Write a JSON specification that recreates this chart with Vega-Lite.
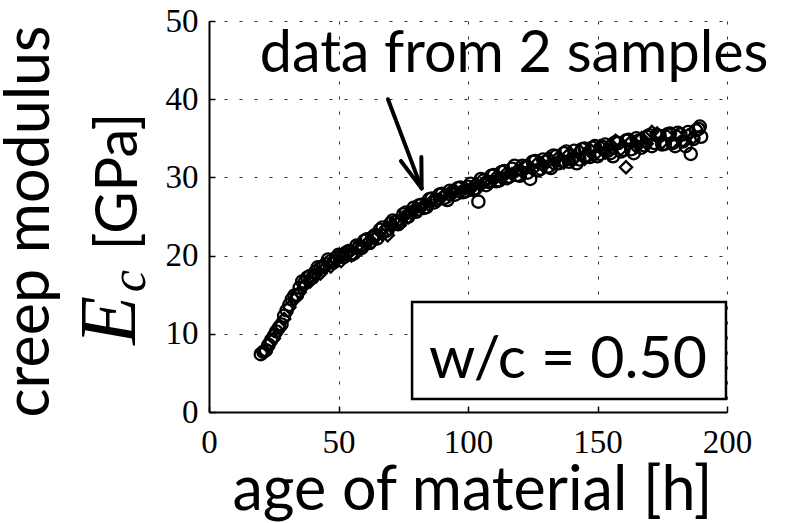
{
  "$schema": "https://vega.github.io/schema/vega-lite/v6.json",
  "autosize": {"type": "none"},
  "padding": {"left": 209, "top": 21, "right": 67, "bottom": 111},
  "width": 518,
  "height": 391,
  "background": "white",
  "config": {
    "view": {"stroke": null},
    "axis": {
      "domainColor": "black", "domainWidth": 2,
      "tickColor": "black", "tickWidth": 1.5, "tickSize": -6,
      "gridColor": "#333333", "gridDash": [3, 12], "gridWidth": 1, "gridOpacity": 1,
      "labelFont": "Liberation Serif", "labelFontSize": 33, "labelColor": "black",
      "titleFont": "Lato", "titleFontSize": 61, "titleFontWeight": "normal", "titleColor": "black"
    }
  },
  "datasets": {
    "creep": [
      {"s":"A","t":20,"E":7.4},{"s":"A","t":22,"E":7.9},{"s":"A","t":24,"E":9.2},{"s":"A","t":26,"E":10.3},{"s":"A","t":28,"E":11.2},{"s":"A","t":30,"E":13.0},{"s":"A","t":32,"E":14.4},{"s":"A","t":34,"E":15.0},{"s":"A","t":36,"E":16.7},{"s":"A","t":38,"E":17.2},{"s":"A","t":40,"E":17.2},{"s":"A","t":42,"E":18.5},{"s":"A","t":44,"E":18.6},{"s":"A","t":46,"E":19.5},{"s":"A","t":48,"E":19.1},{"s":"A","t":50,"E":20.1},{"s":"A","t":52,"E":19.8},{"s":"A","t":54,"E":20.6},{"s":"A","t":56,"E":20.3},{"s":"A","t":58,"E":21.2},{"s":"A","t":60,"E":21.9},{"s":"A","t":62,"E":21.6},{"s":"A","t":64,"E":22.6},{"s":"A","t":66,"E":23.3},{"s":"A","t":68,"E":23.1},{"s":"A","t":70,"E":24.1},{"s":"A","t":72,"E":24.3},{"s":"A","t":74,"E":24.3},{"s":"A","t":76,"E":25.5},{"s":"A","t":78,"E":25.5},{"s":"A","t":80,"E":25.6},{"s":"A","t":82,"E":26.5},{"s":"A","t":84,"E":26.2},{"s":"A","t":86,"E":27.3},{"s":"A","t":88,"E":27.1},{"s":"A","t":90,"E":27.9},{"s":"A","t":92,"E":27.1},{"s":"A","t":94,"E":28.1},{"s":"A","t":96,"E":28.6},{"s":"A","t":98,"E":28.1},{"s":"A","t":100,"E":28.8},{"s":"A","t":102,"E":28.4},{"s":"A","t":104,"E":26.9},{"s":"A","t":106,"E":29.6},{"s":"A","t":108,"E":29.4},{"s":"A","t":110,"E":30.3},{"s":"A","t":112,"E":29.6},{"s":"A","t":114,"E":30.8},{"s":"A","t":116,"E":30.1},{"s":"A","t":118,"E":31.5},{"s":"A","t":120,"E":30.2},{"s":"A","t":122,"E":31.3},{"s":"A","t":124,"E":29.8},{"s":"A","t":126,"E":32.1},{"s":"A","t":128,"E":31.1},{"s":"A","t":130,"E":32.0},{"s":"A","t":132,"E":31.2},{"s":"A","t":134,"E":32.7},{"s":"A","t":136,"E":32.1},{"s":"A","t":138,"E":33.3},{"s":"A","t":140,"E":32.3},{"s":"A","t":142,"E":31.8},{"s":"A","t":144,"E":33.6},{"s":"A","t":146,"E":32.8},{"s":"A","t":148,"E":33.8},{"s":"A","t":150,"E":32.7},{"s":"A","t":152,"E":33.9},{"s":"A","t":154,"E":33.4},{"s":"A","t":156,"E":32.7},{"s":"A","t":158,"E":34.4},{"s":"A","t":160,"E":33.5},{"s":"A","t":162,"E":34.8},{"s":"A","t":164,"E":33.1},{"s":"A","t":166,"E":34.7},{"s":"A","t":168,"E":34.1},{"s":"A","t":170,"E":35.4},{"s":"A","t":172,"E":34.4},{"s":"A","t":174,"E":35.3},{"s":"A","t":176,"E":34.3},{"s":"A","t":178,"E":35.6},{"s":"A","t":180,"E":34.0},{"s":"A","t":182,"E":35.5},{"s":"A","t":184,"E":34.0},{"s":"A","t":186,"E":33.0},{"s":"A","t":188,"E":36.0},{"s":"A","t":189.5,"E":36.5},{"s":"A","t":190,"E":35.2},
      {"s":"A","t":21,"E":7.7},{"s":"A","t":23,"E":8.6},{"s":"A","t":25,"E":9.7},{"s":"A","t":27,"E":10.8},{"s":"A","t":29,"E":12.3},{"s":"A","t":31,"E":13.7},{"s":"A","t":33,"E":14.9},{"s":"A","t":35,"E":15.9},{"s":"A","t":37,"E":16.6},{"s":"A","t":39,"E":17.4},{"s":"A","t":41,"E":17.9},{"s":"A","t":43,"E":18.4},{"s":"A","t":45,"E":18.9},{"s":"A","t":47,"E":19.3},{"s":"A","t":49,"E":19.7},
      {"s":"A","t":51,"E":20.0},{"s":"A","t":53,"E":20.4},{"s":"A","t":55,"E":20.1},{"s":"A","t":57,"E":21.3},{"s":"A","t":59,"E":21.0},{"s":"A","t":61,"E":22.1},{"s":"A","t":63,"E":22.3},{"s":"A","t":65,"E":22.2},{"s":"A","t":67,"E":23.6},{"s":"A","t":69,"E":23.3},{"s":"A","t":71,"E":24.5},{"s":"A","t":73,"E":24.0},{"s":"A","t":75,"E":25.3},{"s":"A","t":77,"E":25.0},{"s":"A","t":79,"E":26.1},{"s":"A","t":81,"E":26.4},{"s":"A","t":83,"E":26.1},{"s":"A","t":85,"E":27.2},{"s":"A","t":87,"E":26.8},{"s":"A","t":89,"E":27.8},{"s":"A","t":91,"E":27.4},{"s":"A","t":93,"E":28.3},{"s":"A","t":95,"E":27.8},{"s":"A","t":97,"E":28.7},{"s":"A","t":99,"E":28.2},{"s":"A","t":101,"E":29.2},{"s":"A","t":103,"E":28.6},{"s":"A","t":105,"E":29.8},{"s":"A","t":107,"E":29.0},{"s":"A","t":109,"E":30.2},{"s":"A","t":111,"E":29.5},{"s":"A","t":113,"E":30.7},{"s":"A","t":115,"E":29.9},{"s":"A","t":117,"E":31.1},{"s":"A","t":119,"E":30.3},{"s":"A","t":121,"E":31.5},{"s":"A","t":123,"E":30.6},{"s":"A","t":125,"E":32.0},{"s":"A","t":127,"E":30.9},{"s":"A","t":129,"E":32.3},{"s":"A","t":131,"E":31.4},{"s":"A","t":133,"E":32.8},{"s":"A","t":135,"E":31.8},{"s":"A","t":137,"E":33.1},{"s":"A","t":139,"E":32.0},{"s":"A","t":141,"E":33.4},{"s":"A","t":143,"E":32.3},{"s":"A","t":145,"E":33.7},{"s":"A","t":147,"E":32.6},{"s":"A","t":149,"E":34.0},{"s":"A","t":151,"E":33.0},{"s":"A","t":153,"E":34.2},{"s":"A","t":155,"E":33.1},{"s":"A","t":157,"E":34.5},{"s":"A","t":159,"E":33.3},{"s":"A","t":161,"E":34.7},{"s":"A","t":163,"E":33.6},{"s":"A","t":165,"E":35.0},{"s":"A","t":167,"E":33.8},{"s":"A","t":169,"E":35.2},{"s":"A","t":171,"E":34.0},{"s":"A","t":173,"E":35.4},{"s":"A","t":175,"E":34.2},{"s":"A","t":177,"E":35.5},{"s":"A","t":179,"E":34.4},{"s":"A","t":181,"E":35.7},{"s":"A","t":183,"E":34.6},{"s":"A","t":185,"E":35.8},{"s":"A","t":187,"E":34.9},{"s":"A","t":189,"E":36.2},
      {"s":"B","t":21,"E":7.7},{"s":"B","t":23,"E":8.7},{"s":"B","t":25,"E":9.4},{"s":"B","t":27,"E":10.9},{"s":"B","t":29,"E":11.9},{"s":"B","t":31,"E":13.4},{"s":"B","t":33,"E":14.4},{"s":"B","t":35,"E":15.3},{"s":"B","t":37,"E":16.2},{"s":"B","t":39,"E":16.7},{"s":"B","t":41,"E":17.5},{"s":"B","t":43,"E":17.7},{"s":"B","t":45,"E":18.5},{"s":"B","t":47,"E":18.6},{"s":"B","t":49,"E":19.4},{"s":"B","t":51,"E":19.3},{"s":"B","t":53,"E":20.2},{"s":"B","t":55,"E":20.0},{"s":"B","t":57,"E":21.0},{"s":"B","t":59,"E":20.9},{"s":"B","t":61,"E":21.6},{"s":"B","t":63,"E":21.7},{"s":"B","t":65,"E":22.6},{"s":"B","t":67,"E":22.7},{"s":"B","t":69,"E":22.6},{"s":"B","t":71,"E":23.9},{"s":"B","t":73,"E":24.2},{"s":"B","t":75,"E":24.9},{"s":"B","t":77,"E":24.9},{"s":"B","t":79,"E":25.8},{"s":"B","t":81,"E":25.8},{"s":"B","t":83,"E":26.5},{"s":"B","t":85,"E":26.5},{"s":"B","t":87,"E":27.3},{"s":"B","t":89,"E":27.2},{"s":"B","t":91,"E":27.8},{"s":"B","t":93,"E":27.7},{"s":"B","t":95,"E":28.3},{"s":"B","t":97,"E":28.1},{"s":"B","t":99,"E":28.6},{"s":"B","t":101,"E":28.5},{"s":"B","t":103,"E":29.2},{"s":"B","t":105,"E":29.0},{"s":"B","t":107,"E":29.6},{"s":"B","t":109,"E":29.4},{"s":"B","t":111,"E":30.1},{"s":"B","t":113,"E":29.9},{"s":"B","t":115,"E":30.6},{"s":"B","t":117,"E":30.4},{"s":"B","t":119,"E":30.9},{"s":"B","t":121,"E":30.7},{"s":"B","t":123,"E":31.6},{"s":"B","t":125,"E":31.0},{"s":"B","t":127,"E":31.9},{"s":"B","t":129,"E":31.5},{"s":"B","t":131,"E":32.5},{"s":"B","t":133,"E":31.7},{"s":"B","t":135,"E":32.6},{"s":"B","t":137,"E":31.9},{"s":"B","t":139,"E":33.0},{"s":"B","t":141,"E":32.4},{"s":"B","t":143,"E":33.4},{"s":"B","t":145,"E":32.4},{"s":"B","t":147,"E":33.6},{"s":"B","t":149,"E":32.9},{"s":"B","t":151,"E":34.0},{"s":"B","t":153,"E":33.2},{"s":"B","t":155,"E":34.2},{"s":"B","t":157,"E":34.7},{"s":"B","t":159,"E":33.6},{"s":"B","t":161,"E":31.3},{"s":"B","t":163,"E":34.6},{"s":"B","t":165,"E":33.9},{"s":"B","t":167,"E":35.0},{"s":"B","t":169,"E":34.3},{"s":"B","t":171,"E":35.8},{"s":"B","t":173,"E":35.6},{"s":"B","t":175,"E":34.5},{"s":"B","t":177,"E":35.3},{"s":"B","t":179,"E":34.5},{"s":"B","t":181,"E":35.3},{"s":"B","t":183,"E":34.7},{"s":"B","t":185,"E":35.4},{"s":"B","t":187,"E":35.1}
    ]
  },
  "layer": [
    {
      "data": {"name": "creep"},
      "mark": {"type": "point", "filled": false, "color": "black", "strokeWidth": 2.3, "size": 150, "opacity": 1},
      "encoding": {
        "x": {"field": "t", "type": "quantitative",
              "scale": {"domain": [0, 200], "nice": false, "zero": false},
              "axis": {"values": [0, 50, 100, 150, 200], "grid": true, "title": "age of material [h]",
                       "labelBaseline": "alphabetic", "labelPadding": 46, "labelFlush": false,
                       "titleBaseline": "alphabetic", "titleAlign": "center", "titleX": 263, "titleY": 97}},
        "y": {"field": "E", "type": "quantitative",
              "scale": {"domain": [0, 50], "nice": false},
              "axis": {"values": [0, 10, 20, 30, 40, 50], "grid": true, "title": "creep modulus",
                       "labelPadding": 17, "labelBaseline": "middle", "labelFlush": false,
                       "titleAngle": -90, "titleBaseline": "alphabetic", "titleAlign": "center", "titleX": -161, "titleY": 200}},
        "shape": {"field": "s", "type": "nominal",
                  "scale": {"domain": ["A", "B"], "range": ["circle", "diamond"]}, "legend": null}
      }
    },
    {
      "data": {"values": [{}]},
      "mark": {"type": "rule", "color": "black", "strokeWidth": 4, "strokeCap": "round"},
      "encoding": {"x": {"datum": 69.1}, "y": {"datum": 40.0}, "x2": {"datum": 82.1}, "y2": {"datum": 28.6}}
    },
    {
      "data": {"values": [{}]},
      "mark": {"type": "rule", "color": "black", "strokeWidth": 4, "strokeCap": "round"},
      "encoding": {"x": {"datum": 74.1}, "y": {"datum": 32.1}, "x2": {"datum": 82.1}, "y2": {"datum": 28.6}}
    },
    {
      "data": {"values": [{}]},
      "mark": {"type": "rule", "color": "black", "strokeWidth": 4, "strokeCap": "round"},
      "encoding": {"x": {"datum": 82.0}, "y": {"datum": 32.6}, "x2": {"datum": 82.1}, "y2": {"datum": 28.6}}
    },
    {
      "data": {"values": [{}]},
      "mark": {"type": "rect", "fill": "white", "stroke": "black", "strokeWidth": 2.5},
      "encoding": {"x": {"datum": 78.4}, "x2": {"datum": 199.6}, "y": {"datum": 14.07}, "y2": {"datum": 1.66}}
    },
    {
      "data": {"values": [{}]},
      "mark": {"type": "text", "text": "w/c = 0.50", "font": "Lato", "fontSize": 59, "color": "black", "align": "center", "baseline": "alphabetic"},
      "encoding": {"x": {"datum": 138.6}, "y": {"datum": 4.35}}
    },
    {
      "data": {"values": [{}]},
      "mark": {"type": "text", "text": "data from 2 samples", "font": "Lato", "fontSize": 57.5, "color": "black", "align": "center", "baseline": "alphabetic"},
      "encoding": {"x": {"datum": 117.8}, "y": {"datum": 43.5}}
    },
    {
      "data": {"values": [{}]},
      "mark": {"type": "text", "text": "E", "font": "Liberation Serif", "fontStyle": "italic", "fontSize": 80, "color": "black", "align": "left", "baseline": "alphabetic", "angle": -90},
      "encoding": {"x": {"datum": -28.6}, "y": {"datum": 8.6}}
    },
    {
      "data": {"values": [{}]},
      "mark": {"type": "text", "text": "c", "font": "Liberation Serif", "fontStyle": "italic", "fontSize": 50, "color": "black", "align": "left", "baseline": "alphabetic", "angle": -90},
      "encoding": {"x": {"datum": -24.7}, "y": {"datum": 15.3}}
    },
    {
      "data": {"values": [{}]},
      "mark": {"type": "text", "text": "[GPa]", "font": "Lato", "fontSize": 58, "color": "black", "align": "left", "baseline": "alphabetic", "angle": -90},
      "encoding": {"x": {"datum": -27.8}, "y": {"datum": 20.7}}
    }
  ]
}
